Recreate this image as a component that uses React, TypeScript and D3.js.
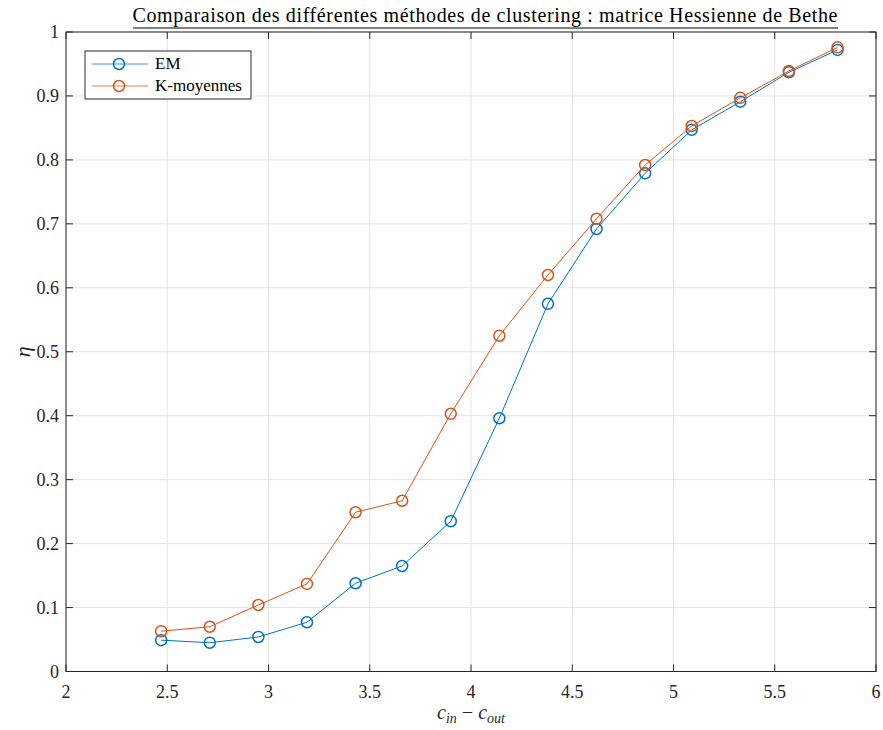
import React, { useEffect, useRef } from "react";
import * as d3 from "d3";

// values
const cDiff = [2.47, 2.71, 2.95, 3.19, 3.43, 3.66, 3.9, 4.14, 4.38, 4.62, 4.86, 5.09, 5.33, 5.57, 5.81];
const etaEM = [0.049, 0.045, 0.054, 0.077, 0.138, 0.165, 0.235, 0.396, 0.575, 0.692, 0.779, 0.847, 0.891, 0.937, 0.972];
const etaKM = [0.063, 0.07, 0.104, 0.137, 0.249, 0.267, 0.403, 0.525, 0.62, 0.708, 0.792, 0.853, 0.897, 0.939, 0.976];
const xTicks = [2, 2.5, 3, 3.5, 4, 4.5, 5, 5.5, 6];
const yTicks = [0, 0.1, 0.2, 0.3, 0.4, 0.5, 0.6, 0.7, 0.8, 0.9, 1];
const seriesNames = ["EM", "K-moyennes"];
const seriesColors = ["#0072BD", "#D95319"];

const FONT = "Liberation Serif";

function App() {
  const ref = useRef<SVGSVGElement>(null);

  useEffect(() => {
    const svg = d3.select(ref.current);
    svg.selectAll("*").remove();

    // plot box
    const left = 66, right = 876, top = 32, bottom = 671.5;

    const x = d3.scaleLinear().domain([2, 6]).range([left, right]);
    const y = d3.scaleLinear().domain([0, 1]).range([bottom, top]);

    svg.append("rect")
      .attr("x", 0).attr("y", 0).attr("width", 883).attr("height", 730)
      .attr("fill", "#fff");

    // grid
    const grid = svg.append("g").attr("stroke", "#e3e3e3").attr("stroke-width", 1);
    xTicks.forEach((t) => {
      grid.append("line").attr("x1", x(t)).attr("x2", x(t)).attr("y1", top).attr("y2", bottom);
    });
    yTicks.forEach((t) => {
      grid.append("line").attr("x1", left).attr("x2", right).attr("y1", y(t)).attr("y2", y(t));
    });

    // axes (ticks inside, box on)
    const tl = 7;
    const axisColor = "#262626";
    const ax = svg.append("g").attr("stroke", axisColor).attr("stroke-width", 1).attr("fill", "none");
    ax.append("rect").attr("x", left).attr("y", top).attr("width", right - left).attr("height", bottom - top);
    xTicks.forEach((t) => {
      ax.append("line").attr("x1", x(t)).attr("x2", x(t)).attr("y1", bottom).attr("y2", bottom - tl);
      ax.append("line").attr("x1", x(t)).attr("x2", x(t)).attr("y1", top).attr("y2", top + tl);
    });
    yTicks.forEach((t) => {
      ax.append("line").attr("x1", left).attr("x2", left + tl).attr("y1", y(t)).attr("y2", y(t));
      ax.append("line").attr("x1", right).attr("x2", right - tl).attr("y1", y(t)).attr("y2", y(t));
    });

    // tick labels
    const fmt = (v: number) => String(v);
    svg.append("g").selectAll("text").data(xTicks).join("text")
      .attr("x", (d) => x(d)).attr("y", bottom + 26)
      .attr("text-anchor", "middle")
      .style("font-family", FONT).attr("font-size", 18).attr("fill", axisColor)
      .text(fmt);
    svg.append("g").selectAll("text").data(yTicks).join("text")
      .attr("x", left - 7).attr("y", (d) => y(d) + 6)
      .attr("text-anchor", "end")
      .style("font-family", FONT).attr("font-size", 18).attr("fill", axisColor)
      .text(fmt);

    // series
    const series = [etaEM, etaKM];
    series.forEach((vals, i) => {
      const pts = cDiff.map((c, k) => [c, vals[k]] as [number, number]);
      const line = d3.line<[number, number]>().x((d) => x(d[0])).y((d) => y(d[1]));
      svg.append("path")
        .attr("d", line(pts))
        .attr("fill", "none")
        .attr("stroke", seriesColors[i])
        .attr("stroke-width", 1);
      svg.append("g").selectAll("circle").data(pts).join("circle")
        .attr("cx", (d) => x(d[0])).attr("cy", (d) => y(d[1]))
        .attr("r", 5.5)
        .attr("fill", "none")
        .attr("stroke", seriesColors[i])
        .attr("stroke-width", 1.5);
    });

    // title
    svg.append("text")
      .attr("x", 485).attr("y", 22)
      .attr("text-anchor", "middle")
      .style("font-family", FONT).attr("font-size", 20).attr("fill", "#000")
      .attr("textLength", 705).attr("lengthAdjust", "spacing")
      .text("Comparaison des différentes méthodes de clustering : matrice Hessienne de Bethe");
    svg.append("line")
      .attr("x1", 133).attr("x2", 838).attr("y1", 28).attr("y2", 28)
      .attr("stroke", "#000").attr("stroke-width", 1);

    // axis labels
    const xl = svg.append("text")
      .attr("x", 471).attr("y", 719)
      .attr("text-anchor", "middle")
      .style("font-family", FONT).attr("font-size", 20).attr("fill", axisColor)
      .attr("font-style", "italic");
    xl.append("tspan").text("c");
    xl.append("tspan").attr("font-size", 14).attr("dy", 4).text("in");
    xl.append("tspan").attr("dy", -4).attr("font-style", "normal").text(" − ");
    xl.append("tspan").text("c");
    xl.append("tspan").attr("font-size", 14).attr("dy", 4).text("out");

    svg.append("text")
      .attr("transform", `translate(30,${(top + bottom) / 2}) rotate(-90)`)
      .attr("text-anchor", "middle")
      .style("font-family", FONT).attr("font-size", 22).attr("font-style", "italic")
      .attr("fill", axisColor)
      .text("η");

    // legend
    const lg = svg.append("g");
    lg.append("rect")
      .attr("x", 85).attr("y", 51).attr("width", 166).attr("height", 48)
      .attr("fill", "#fff").attr("stroke", axisColor).attr("stroke-width", 1);
    seriesNames.forEach((name, i) => {
      const ly = 64 + i * 22;
      lg.append("line")
        .attr("x1", 92).attr("x2", 148).attr("y1", ly).attr("y2", ly)
        .attr("stroke", seriesColors[i]).attr("stroke-width", 1).attr("opacity", 0.75);
      lg.append("circle")
        .attr("cx", 119).attr("cy", ly).attr("r", 5.5)
        .attr("fill", "none").attr("stroke", seriesColors[i]).attr("stroke-width", 1.5);
      lg.append("text")
        .attr("x", 155).attr("y", ly + 5)
        .style("font-family", FONT).attr("font-size", 17).attr("fill", "#000")
        .text(name);
    });
  }, []);

  return (
    <svg
      ref={ref}
      width={883}
      height={730}
      style={{ position: "absolute", left: 0, top: 0, display: "block" }}
    ></svg>
  );
}

export default App;
